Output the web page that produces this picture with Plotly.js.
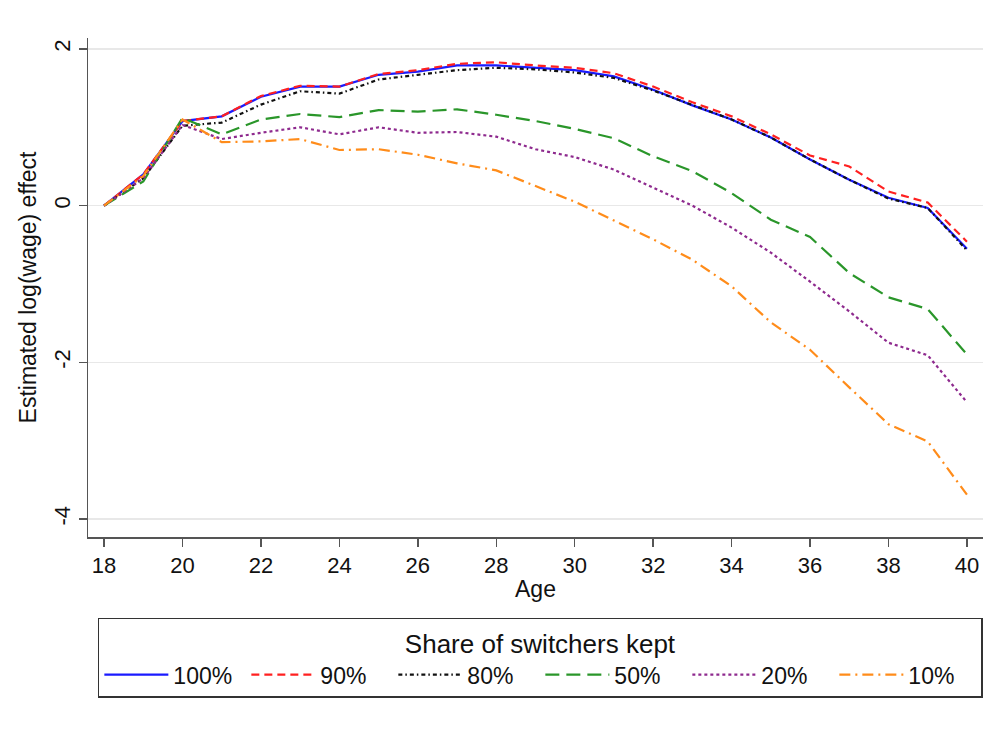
<!DOCTYPE html>
<html><head><meta charset="utf-8">
<script src="https://cdn.plot.ly/plotly-3.0.1.min.js"></script>
<style>body{margin:0;background:#fff}#chart{width:999px;height:733px}</style>
</head><body><div id="chart"></div>
<script>
var ages = [18,19,20,21,22,23,24,25,26,27,28,29,30,31,32,33,34,35,36,37,38,39,40];
var s100 = [0,0.40,1.08,1.14,1.39,1.52,1.52,1.67,1.71,1.79,1.79,1.76,1.73,1.65,1.48,1.28,1.10,0.87,0.59,0.33,0.10,-0.03,-0.55];
var s90  = [0,0.40,1.08,1.14,1.40,1.53,1.52,1.68,1.73,1.81,1.83,1.79,1.76,1.69,1.52,1.32,1.14,0.91,0.64,0.50,0.18,0.04,-0.46];
var s80  = [0,0.35,1.02,1.06,1.29,1.46,1.43,1.61,1.67,1.73,1.76,1.74,1.70,1.63,1.47,1.28,1.10,0.87,0.59,0.33,0.09,-0.03,-0.57];
var s50  = [0,0.31,1.12,0.91,1.10,1.17,1.13,1.22,1.20,1.23,1.16,1.08,0.98,0.86,0.63,0.44,0.16,-0.18,-0.40,-0.86,-1.17,-1.32,-1.90];
var s20  = [0,0.35,1.03,0.85,0.93,1.00,0.91,1.00,0.93,0.94,0.88,0.72,0.62,0.46,0.23,0.00,-0.28,-0.60,-0.97,-1.35,-1.75,-1.91,-2.51];
var s10  = [0,0.38,1.10,0.81,0.82,0.85,0.71,0.72,0.65,0.54,0.45,0.25,0.05,-0.19,-0.43,-0.69,-1.03,-1.49,-1.84,-2.32,-2.79,-3.01,-3.69];
var names = ['100%','90%','80%','50%','20%','10%'];
var series = [s100,s90,s80,s50,s20,s10];
var colors = ['#1a1aff','#ff2020','#111111','#2a962a','#8e2a8e','#ff8c1a'];
var dashes = ['solid','8px,5px','4px,3px,1.5px,3px','14px,7px','3px,3px','11px,5px,2px,5px'];

var traces = series.map(function(s,i){
  return {x:ages, y:s, name:names[i], type:'scatter', mode:'lines',
    line:{color:colors[i], width:2.2, dash:dashes[i]}};
});

var layout = {
  width:999, height:733,
  paper_bgcolor:'#fff', plot_bgcolor:'#fff',
  margin:{l:88, r:16, t:38, b:196},
  font:{family:'Liberation Sans, Arial, sans-serif', color:'#111', size:22},
  showlegend:true,
  xaxis:{range:[17.59,40.41], tickvals:[18,20,22,24,26,28,30,32,34,36,38,40],
    showgrid:false, zeroline:false, showline:true, linecolor:'#555', linewidth:1.5,
    ticks:'outside', ticklen:8, tickcolor:'#555', tickwidth:1.5,
    tickfont:{size:22}, title:{text:'Age', font:{size:23}, standoff:4}},
  yaxis:{range:[-4.23,2.14], tickvals:[-4,-2,0,2], ticktext:['-4','-2','0','2'],
    showgrid:true, gridcolor:'#e8e8e8', gridwidth:1.5, zeroline:false,
    showline:true, linecolor:'#555', linewidth:1.5,
    ticks:'outside', ticklen:8, tickcolor:'#555', tickwidth:1.5, tickangle:-90,
    tickfont:{size:22}, title:{text:'Estimated log(wage) effect', font:{size:23}, standoff:6}},
  legend:{orientation:'h', x:0.011, xanchor:'left', y:-0.162, yanchor:'top',
    bordercolor:'#333', borderwidth:1.5, bgcolor:'#fff',
    itemwidth:64, entrywidth:68, entrywidthmode:'pixels',
    font:{size:23},
    title:{text:'Share of switchers kept', side:'top center', font:{size:26}},
    traceorder:'normal'}
};
Plotly.newPlot('chart', traces, layout, {displayModeBar:false, staticPlot:true});
</script></body></html>
